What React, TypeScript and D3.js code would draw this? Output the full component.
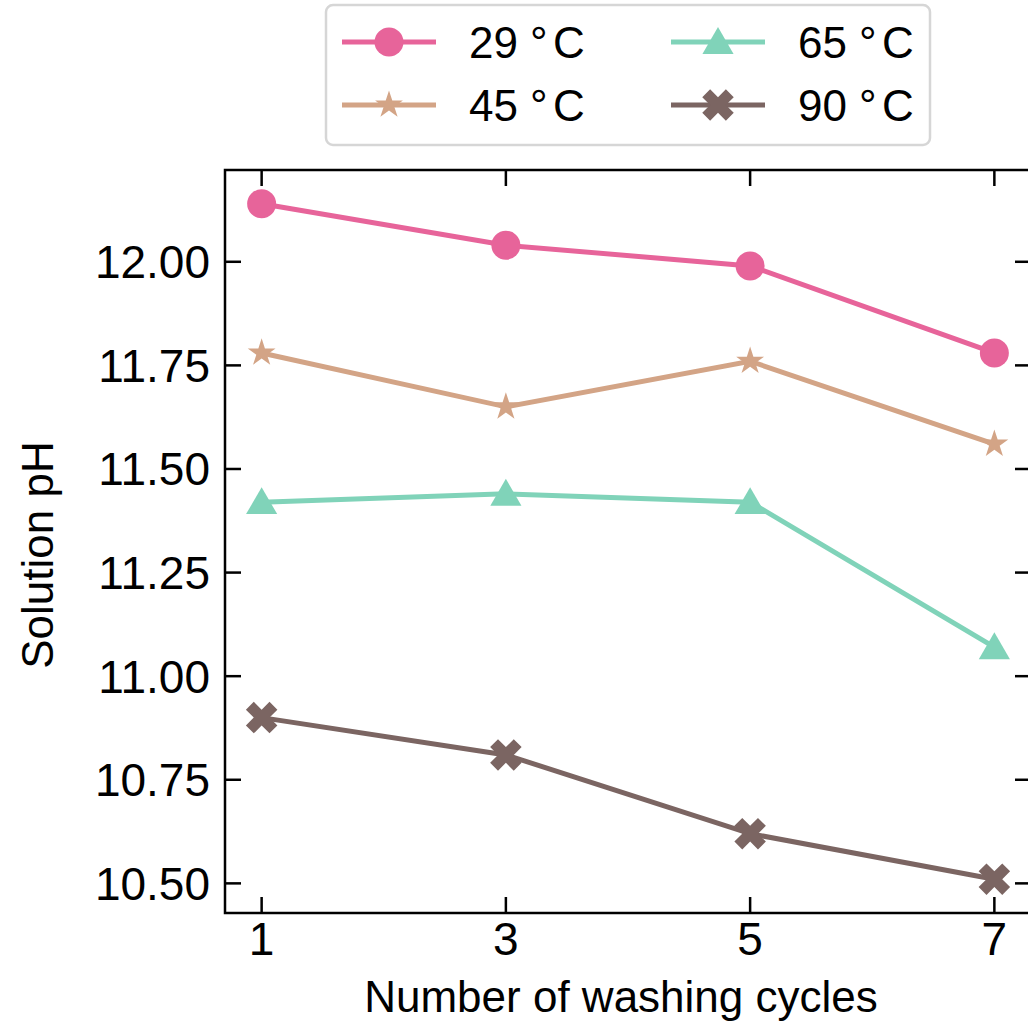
import React from "react";
import * as d3 from "d3";

const cycles = [1, 3, 5, 7];
const ph29 = [12.14, 12.04, 11.99, 11.78];
const ph45 = [11.78, 11.65, 11.76, 11.56];
const ph65 = [11.42, 11.44, 11.42, 11.07];
const ph90 = [10.9, 10.81, 10.62, 10.51];
const yTicks = [10.5, 10.75, 11.0, 11.25, 11.5, 11.75, 12.0];

const series = [
  { name: "29", values: ph29, color: "#e7649a", marker: "circle" },
  { name: "45", values: ph45, color: "#d3a486", marker: "star" },
  { name: "65", values: ph65, color: "#80d3b9", marker: "triangle" },
  { name: "90", values: ph90, color: "#7b6562", marker: "x" },
];

const W = 1028;
const H = 1021;
const left = 225, top = 170, right = 1031, bottom = 913;
const FONT = "Liberation Sans, Arial, sans-serif";

const x = d3.scaleLinear().domain([0.7, 7.3]).range([left, right]);
const y = d3.scaleLinear().domain([10.4285, 12.2215]).range([bottom, top]);

function markerPath(kind: string) {
  if (kind === "star") return d3.symbol(d3.symbolStar, 240)() || "";
  if (kind === "triangle") return d3.symbol(d3.symbolTriangle, 420)() || "";
  if (kind === "x") return d3.symbol(d3.symbolCross, 620)() || "";
  return d3.symbol(d3.symbolCircle, 660)() || "";
}

function Marker({ kind, cx, cy, color }: { kind: string; cx: number; cy: number; color: string }) {
  const rot = kind === "x" ? " rotate(45)" : "";
  const dy = kind === "triangle" ? 3 : 0;
  return <path d={markerPath(kind)} transform={`translate(${cx},${cy + dy})${rot}`} fill={color} />;
}

export default function App() {
  const line = d3
    .line<number>()
    .x((_, i) => x(cycles[i]))
    .y((d) => y(d));

  const tickLen = 16;

  return (
    <svg width={W} height={H} style={{ position: "absolute", left: 0, top: 0 }} fontFamily={FONT}>
      <rect width={W} height={H} fill="#fff" />
      {series.map((s) => (
        <g key={s.name}>
          <path d={line(s.values) || ""} fill="none" stroke={s.color} strokeWidth={5} />
          {s.values.map((v, i) => (
            <Marker key={i} kind={s.marker} cx={x(cycles[i])} cy={y(v)} color={s.color} />
          ))}
        </g>
      ))}

      {/* axes frame */}
      <rect x={left} y={top} width={right - left} height={bottom - top} fill="none" stroke="#000" strokeWidth={2.5} />
      {cycles.map((c) => (
        <g key={c}>
          <line x1={x(c)} x2={x(c)} y1={bottom} y2={bottom - tickLen} stroke="#000" strokeWidth={2.5} />
          <line x1={x(c)} x2={x(c)} y1={top} y2={top + tickLen} stroke="#000" strokeWidth={2.5} />
          <text x={x(c)} y={955} textAnchor="middle" fontSize={46}>{c}</text>
        </g>
      ))}
      {yTicks.map((t) => (
        <g key={t}>
          <line x1={left} x2={left + tickLen} y1={y(t)} y2={y(t)} stroke="#000" strokeWidth={2.5} />
          <line x1={right} x2={right - tickLen} y1={y(t)} y2={y(t)} stroke="#000" strokeWidth={2.5} />
          <text x={210} y={y(t) + 16.5} textAnchor="end" fontSize={46}>{t.toFixed(2)}</text>
        </g>
      ))}

      <text x={621} y={1012} textAnchor="middle" fontSize={44}>Number of washing cycles</text>
      <text transform={`translate(53,555) rotate(-90)`} textAnchor="middle" fontSize={44}>Solution pH</text>

      {/* legend */}
      <rect x={326} y={5} width={604} height={140} rx={7} fill="#fff" stroke="#d6d6d6" strokeWidth={2.5} />
      {series.map((s, i) => {
        const col = i < 2 ? 0 : 1;
        const row = i % 2;
        const lx = 342 + col * 329;
        const ly = 42 + row * 63;
        return (
          <g key={s.name}>
            <line x1={lx} x2={lx + 94} y1={ly} y2={ly} stroke={s.color} strokeWidth={5} />
            <Marker kind={s.marker} cx={lx + 47} cy={ly} color={s.color} />
            <text x={lx + 127} y={ly + 15.5} fontSize={44}>
              {s.name}
              <tspan x={lx + 188}>°</tspan>
              <tspan x={lx + 211}>C</tspan>
            </text>
          </g>
        );
      })}
    </svg>
  );
}
